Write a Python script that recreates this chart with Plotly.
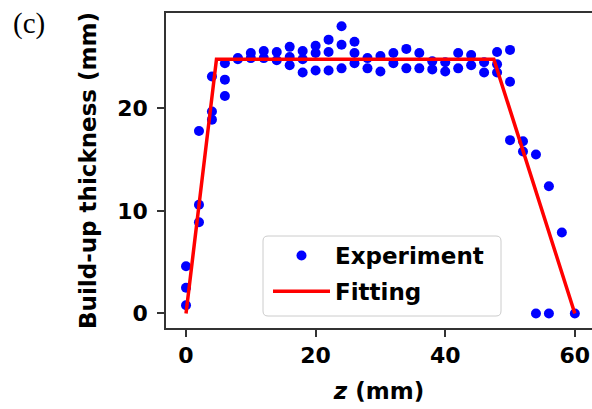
import plotly.graph_objects as go

# Experimental data (z in mm, build-up thickness in mm)
exp_z = [0, 0, 0,
         2, 2, 2,
         4, 4, 4,
         6, 6, 6,
         8, 8,
         10, 10,
         12, 12,
         14, 14,
         16, 16, 16,
         18, 18, 18,
         20, 20, 20,
         22, 22, 22,
         24, 24, 24,
         26, 26, 26,
         28, 28,
         30, 30,
         32, 32,
         34, 34,
         36, 36,
         38, 38,
         40, 40,
         42, 42,
         44, 44,
         46, 46,
         48, 48, 48,
         50, 50, 50,
         52, 52,
         54, 54,
         56, 56,
         58,
         60]
exp_t = [0.8, 2.5, 4.6,
         8.9, 10.6, 17.8,
         18.9, 19.7, 23.1,
         21.2, 22.8, 24.4,
         24.8, 24.9,
         25.4, 24.9,
         25.6, 24.9,
         25.5, 24.7,
         26.0, 24.2, 25.0,
         25.6, 23.5, 24.8,
         26.1, 25.4, 23.7,
         26.7, 25.5, 23.7,
         28.0, 26.2, 23.9,
         26.5, 25.4, 24.4,
         24.9, 23.9,
         25.1, 23.6,
         25.4, 24.4,
         25.8, 23.9,
         25.4, 23.9,
         23.8, 24.6,
         23.6, 24.5,
         25.4, 23.9,
         25.2, 24.2,
         23.5, 24.5,
         25.5, 23.5, 24.3,
         25.7, 22.6, 16.9,
         16.8, 15.8,
         15.5, 0.0,
         12.4, 0.0,
         7.9,
         0.0]

# Fitted trapezoid
fit_z = [0, 4.7, 47.5, 60]
fit_t = [0, 24.8, 24.8, 0]

x_ticks = [0, 20, 40, 60]
y_ticks = [0, 10, 20]

FONT = "DejaVu Sans"

# plot area geometry (pixels) used to convert to paper coordinates
L, R, T, B = 166, 0, 13, 81
PW, PH = 592 - L - R, 409 - T - B


def px(x):
    return (x - L) / PW


def py(y):
    return (409 - B - y) / PH


fig = go.Figure()
fig.add_trace(go.Scatter(
    x=exp_z, y=exp_t, mode="markers", name="Experiment", legendgroup="a",
    marker=dict(color="#0000ff", size=10, line=dict(width=0)),
))
fig.add_trace(go.Scatter(
    x=fit_z, y=fit_t, mode="lines", name="Fitting", legendgroup="b",
    line=dict(color="#ff0000", width=3.5),
))

axis_common = dict(
    showgrid=False, zeroline=False, showline=True,
    linecolor="#333333", linewidth=1.5,
    ticks="outside", ticklen=7, tickwidth=1.5, tickcolor="#333333",
    tickfont=dict(family=FONT, size=22, color="black", weight="bold"),
)

# rounded legend frame
x0, x1 = px(263), px(501)
y1, y0 = py(236), py(316)
rx, ry = 5 / PW, 5 / PH
frame_path = (
    f"M{x0 + rx},{y0} L{x1 - rx},{y0} Q{x1},{y0} {x1},{y0 + ry} "
    f"L{x1},{y1 - ry} Q{x1},{y1} {x1 - rx},{y1} "
    f"L{x0 + rx},{y1} Q{x0},{y1} {x0},{y1 - ry} "
    f"L{x0},{y0 + ry} Q{x0},{y0} {x0 + rx},{y0} Z"
)

fig.update_layout(
    width=592, height=409,
    margin=dict(l=L, r=R, t=T, b=B),
    paper_bgcolor="white", plot_bgcolor="white",
    xaxis=dict(
        range=[-3.09, 62.65], tickvals=x_ticks, mirror=True,
        title=dict(text="<i>z</i> (mm)", standoff=16,
                   font=dict(family=FONT, size=23, color="black", weight="bold")),
        **axis_common,
    ),
    yaxis=dict(
        range=[-1.42, 29.3], tickvals=y_ticks, mirror=False,
        ticklabelstandoff=5,
        title=dict(text="Build-up thickness (mm)", standoff=14,
                   font=dict(family=FONT, size=23, color="black", weight="bold")),
        **axis_common,
    ),
    legend=dict(
        x=px(268), y=py(234), xanchor="left", yanchor="top",
        bgcolor="rgba(0,0,0,0)", borderwidth=0,
        font=dict(family=FONT, size=23, color="black", weight="bold"),
        itemwidth=57, tracegroupgap=3,
    ),
    showlegend=True,
    shapes=[dict(
        type="path", path=frame_path, xref="paper", yref="paper",
        line=dict(color="#cccccc", width=1), fillcolor="rgba(255,255,255,0.85)",
        layer="above",
    )],
    annotations=[dict(
        text="(c)", x=px(11), y=py(24), xref="paper", yref="paper",
        xanchor="left", yanchor="middle", showarrow=False,
        font=dict(family="Liberation Serif", size=29, color="black"),
    )],
)

fig.write_html("out.html")
